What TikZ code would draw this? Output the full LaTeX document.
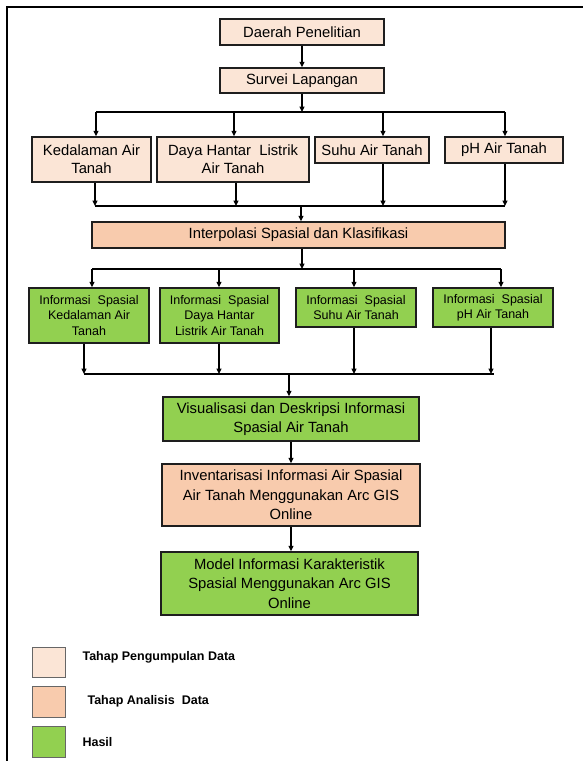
\documentclass[tikz,border=0pt]{standalone}
\usepackage{fontspec}
\setmainfont{Liberation Sans}
\usepackage{tikz}
\usetikzlibrary{calc, positioning, arrows.meta}
\usepackage{xcolor}
\definecolor{collectFill}{RGB}{251, 229, 214}
\definecolor{analysisFill}{RGB}{248, 203, 173}
\definecolor{resultFill}{RGB}{146, 208, 80}
\definecolor{boxLine}{RGB}{30, 30, 30}

\begin{document}
\begin{tikzpicture}[x=1pt, y=-1pt, >={Triangle[length=5.5pt, width=5pt]}, line width=1.1pt,
  box/.style={draw=boxLine, line width=1.5pt, align=center, inner sep=0pt,
    font=\fontsize{14.8}{17.6}\selectfont},
  collect/.style={box, fill=collectFill},
  analysis/.style={box, fill=analysisFill},
  result/.style={box, fill=resultFill},
  smalltext/.style={font=\fontsize{12.5}{15.3}\selectfont},
  bigtext/.style={font=\fontsize{14.8}{19.5}\selectfont},
  legbox/.style={draw=black!60, line width=1pt, minimum width=33pt, minimum height=30pt},
  legtext/.style={anchor=west, inner sep=0pt, font=\fontsize{12.5}{15}\selectfont\bfseries}]
  \useasboundingbox (0,0) rectangle (582,761);
  % frame (cut off at right and bottom)
  \draw[line width=2pt] (7,7) rectangle (640,820);

  % data collection
  \node[collect, minimum width=164pt, minimum height=26pt] (daerah) at (302,32) {Daerah Penelitian};
  \node[collect, minimum width=164pt, minimum height=25pt] (survei) at (302,80.5) {Survei Lapangan};

  \node[collect, minimum width=119pt, minimum height=45pt] (ked) at (91.5,159.5) {Kedalaman Air\\Tanah};
  \node[collect, minimum width=152pt, minimum height=45pt] (dhl) at (233,159.5) {Daya Hantar~ Listrik\\Air Tanah};
  \node[collect, minimum width=114pt, minimum height=26pt] (suhu) at (372,150) {Suhu Air Tanah};
  \node[collect, minimum width=118pt, minimum height=26pt] (ph) at (504,150) {pH Air Tanah};

  % analysis
  \node[analysis, minimum width=413pt, minimum height=26pt] (interp) at (298.5,235) {Interpolasi Spasial dan Klasifikasi};

  % results
  \node[result, smalltext, minimum width=120pt, minimum height=55pt] (iked) at (89,315.5) {Informasi~ Spasial\\Kedalaman Air\\Tanah};
  \node[result, smalltext, minimum width=119pt, minimum height=55pt] (idhl) at (219.5,315.5) {Informasi~ Spasial\\Daya Hantar\\Listrik Air Tanah};
  \node[result, smalltext, minimum width=120pt, minimum height=39pt] (isuhu) at (356,307.5) {Informasi~ Spasial\\Suhu Air Tanah};
  \node[result, smalltext, minimum width=120pt, minimum height=39pt] (iph) at (493,307.5) {Informasi~ Spasial\\pH Air Tanah};

  \node[result, bigtext, minimum width=256pt, minimum height=44pt] (vis) at (291,419) {Visualisasi dan Deskripsi Informasi\\Spasial Air Tanah};
  \node[analysis, bigtext, minimum width=258pt, minimum height=62pt] (inv) at (291,495) {Inventarisasi Informasi Air Spasial\\Air Tanah Menggunakan Arc GIS\\Online};
  \node[result, bigtext, minimum width=257pt, minimum height=63pt] (model) at (289.5,583.5) {Model Informasi Karakteristik\\Spasial Menggunakan Arc GIS\\Online};

  % connectors
  \draw[->] (daerah) -- (survei);
  \coordinate (bus1) at (302,112);
  \draw[->] (survei) -- (bus1);
  \foreach \nm/\x in {t1/96, t2/234, t3/383, t4/505}
    \coordinate (\nm) at (\x,112);
  \draw (t1) -- (t4);
  \foreach \c/\b in {t1/ked, t2/dhl, t3/suhu, t4/ph}
    \draw[->] (\c) -- (\c |- \b.north);

  \foreach \nm/\x in {u1/95, u2/236, u3/383, u4/505}
    \coordinate (\nm) at (\x,206);
  \foreach \c/\b in {u1/ked, u2/dhl, u3/suhu, u4/ph}
    \draw[->] (\c |- \b.south) -- (\c);
  \draw (u1) -- (u4);
  \coordinate (bus2) at (301,206);
  \draw[->] (bus2) -- (bus2 |- interp.north);

  \coordinate (bus3) at (302,269);
  \draw[->] (bus3 |- interp.south) -- (bus3);
  \foreach \nm/\x in {v1/92, v2/219, v3/354, v4/501}
    \coordinate (\nm) at (\x,269);
  \draw (v1) -- (v4);
  \foreach \c/\b in {v1/iked, v2/idhl, v3/isuhu, v4/iph}
    \draw[->] (\c) -- (\c |- \b.north);

  \foreach \nm/\x in {w1/84, w2/219, w3/354, w4/491}
    \coordinate (\nm) at (\x,374);
  \foreach \c/\b in {w1/iked, w2/idhl, w3/isuhu, w4/iph}
    \draw[->] (\c |- \b.south) -- (\c);
  \coordinate (w5) at (494,374);
  \draw (w1) -- (w5);
  \coordinate (bus4) at (289,374);
  \draw[->] (bus4) -- (bus4 |- vis.north);
  \draw[->] (vis.south) -- (vis.south |- inv.north);
  \draw[->] (inv.south) -- (inv.south |- model.north);

  % legend
  \node[legbox, fill=collectFill] (lg1) at (48.5,662) {};
  \node[legbox, fill=analysisFill, minimum height=31pt] (lg2) at (48.5,701.5) {};
  \node[legbox, fill=resultFill, minimum height=31pt] (lg3) at (48.5,741.5) {};
  \node[legtext] (lt1) at (82,657) {Tahap Pengumpulan Data};
  \node[legtext] (lt2) at (87,701) {Tahap Analisis~ Data};
  \node[legtext] (lt3) at (82,742) {Hasil};
\end{tikzpicture}
\end{document}
